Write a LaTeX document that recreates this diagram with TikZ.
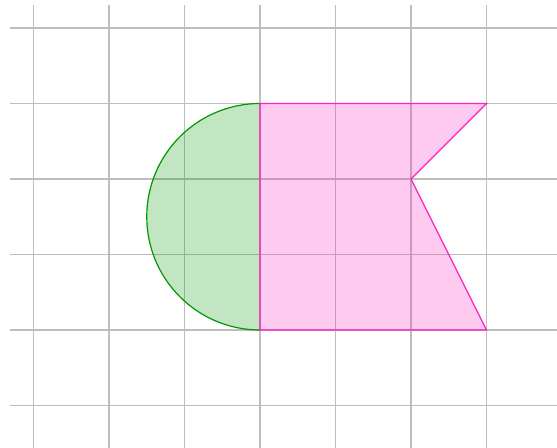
\documentclass[tikz,border=0pt]{standalone}
\usepackage{xcolor}
\usepackage{tikz}

\begin{document}
\begin{tikzpicture}[x=1cm,y=1cm]
    \definecolor{mygray}{RGB}{190,190,190}
    \definecolor{mygreen}{RGB}{0,150,0}
    \definecolor{mypink}{RGB}{255,32,192}

    \tikzstyle{gridline}=[mygray,line width=0.45pt]  % 网格线
    \tikzstyle{halfdisc}=[draw=mygreen,fill=mygreen,fill opacity=0.24,line width=0.45pt]  % 半圆
    \tikzstyle{flag}=[draw=mypink,fill=mypink,fill opacity=0.24,line width=0.45pt]  % 旗形

    % 画布大小
    \useasboundingbox (-3.444,-1.563) rectangle (3.934,4.371);
    \clip (-3.444,-1.563) rectangle (3.934,4.371);

    % 网格
    \draw[gridline,step=1] (-3.31,-2) grid (4.5,4.30);

    % 左侧半圆
    \draw[halfdisc] (0,3) arc[start angle=90,end angle=270,radius=1.5];
    % 右侧多边形
    \draw[flag] (0,0) -- (3,0) -- (2,2) -- (3,3) -- (0,3) -- cycle;
\end{tikzpicture}
\end{document}
